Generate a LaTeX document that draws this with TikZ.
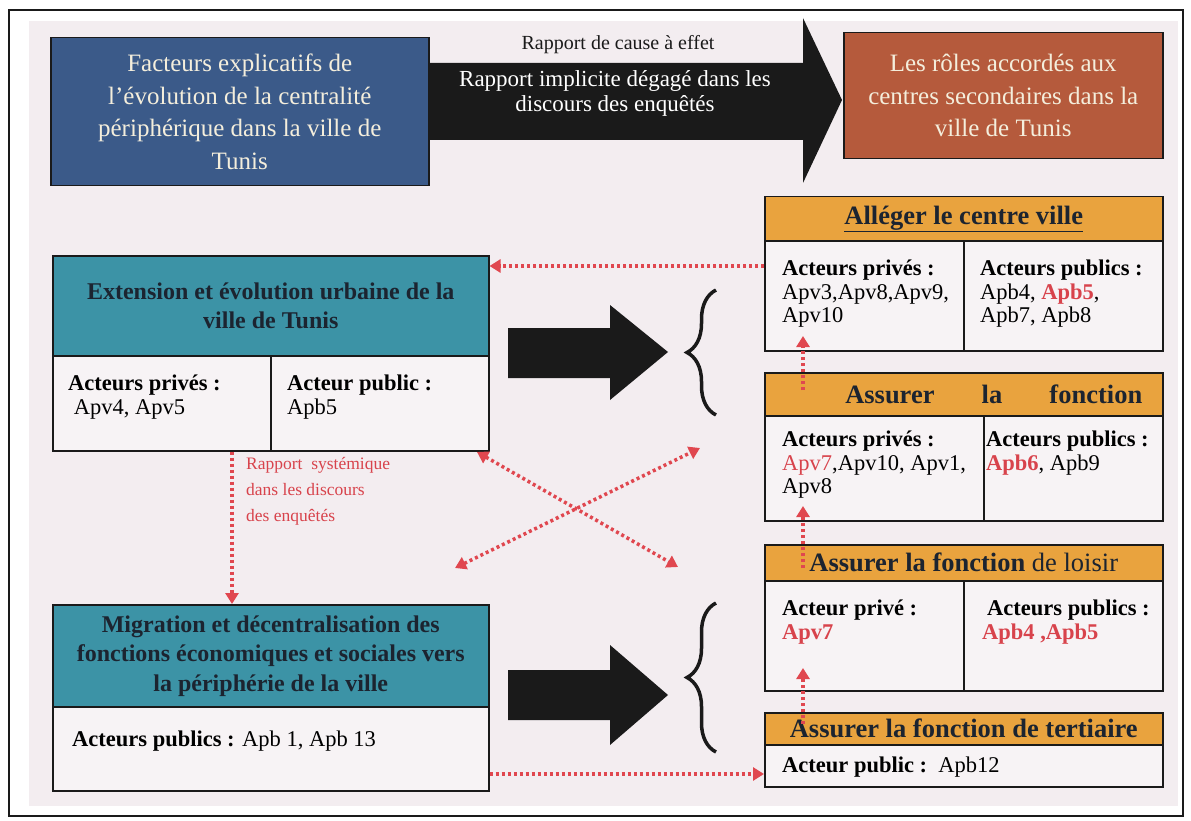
\documentclass[tikz,border=0pt]{standalone}
\usepackage{fontspec}
\setmainfont{Liberation Serif}
\usetikzlibrary{arrows.meta,decorations.pathreplacing,calc}
\definecolor{bgc}{HTML}{F3EDF0}
\definecolor{cellc}{HTML}{F7F3F5}
\definecolor{bluec}{HTML}{3B5A89}
\definecolor{brownc}{HTML}{B55A3C}
\definecolor{tealc}{HTML}{3C93A6}
\definecolor{orangec}{HTML}{E9A33E}
\definecolor{redc}{HTML}{E0474F}
\definecolor{redt}{HTML}{D8434C}
\definecolor{creamc}{HTML}{F4EEDC}
\definecolor{darktx}{HTML}{1C2430}
\definecolor{blk}{HTML}{1A1A1A}
\tikzset{
  bigtitle/.style={draw=blk, line width=1.5pt, inner sep=0pt, anchor=north west, text=creamc, align=center,
    font=\fontsize{25}{32.5}\selectfont},
  lefthdr/.style={draw=blk, line width=1.5pt, fill=tealc, inner sep=0pt, anchor=north west, text=darktx, align=center,
    font=\fontsize{24}{29.5}\selectfont\bfseries},
  righthdr/.style={draw=blk, line width=1.5pt, fill=orangec, inner sep=0pt, anchor=north west, text=darktx,
    font=\fontsize{26.5}{30}\selectfont},
  cellbox/.style={draw=blk, line width=1.5pt, fill=cellc, inner sep=0pt, anchor=north west},
  celltext/.style={inner sep=0pt, anchor=north west, align=left, font=\fontsize{22.5}{23.5}\selectfont},
  rdot/.style={draw=redc, line width=3.5pt, dash pattern=on 3pt off 3pt,
    -{Triangle[width=13pt,length=11pt,fill=redc]}},
  rdotb/.style={rdot, {Triangle[width=13pt,length=11pt,fill=redc]}-{Triangle[width=13pt,length=11pt,fill=redc]}},
  bracestyle/.style={draw=blk, line width=3.5pt, decorate, decoration={brace, amplitude=29pt}},
}
\begin{document}
\begin{tikzpicture}[x=1pt,y=-1pt]
\useasboundingbox (0,0) rectangle (1191,821);
% page background and frame
\fill[white] (0,0) rectangle (1191,821);
\fill[bgc] (29,21) rectangle (1178,806);
\draw[blk, line width=2.5pt] (9,10) rectangle (1183,816);

% top boxes
\node[bigtitle, fill=bluec, minimum width=378pt, minimum height=148pt] (fact) at (50,37)
  {Facteurs explicatifs de\\l'évolution de la centralité\\périphérique dans la ville de\\Tunis};
\node[bigtitle, fill=brownc, minimum width=319pt, minimum height=126pt] (roles) at (843,32)
  {Les rôles accordés aux\\centres secondaires dans la\\ville de Tunis};

% big black arrow
\fill[blk] (fact.east |- 0,63) -- (803,63) -- (803,18) -- (842,100) -- (803,183) -- (803,140) -- (fact.east |- 0,140) -- cycle;
\node[font=\fontsize{20}{22}\selectfont, text=blk] (cause) at (618,45) {Rapport de cause à effet};
\node[font=\fontsize{23}{25}\selectfont, text=white, align=center] (impl) at (615,93)
  {Rapport implicite dégagé dans les\\discours des enquêtés};

% left box A
\node[lefthdr, minimum width=436pt, minimum height=100pt] (hA) at (52,255)
  {Extension et évolution urbaine de la\\ville de Tunis};
\node[cellbox, minimum width=218pt, minimum height=95pt] (cAl) at (52,355) {};
\node[cellbox, minimum width=218pt, minimum height=95pt] (cAr) at (270,355) {};
\node[celltext] (tAl) at (68,375) {\textbf{Acteurs privés :}\\\ Apv4, Apv5};
\node[celltext] (tAr) at (287,375) {\textbf{Acteur public :}\\Apb5};

% left box B
\node[lefthdr, minimum width=436pt, minimum height=102pt] (hB) at (52,604)
  {Migration et décentralisation des\\fonctions économiques et sociales vers\\la périphérie de la ville};
\node[cellbox, minimum width=436pt, minimum height=84pt] (cB) at (52,706) {};
\node[celltext] (tB) at (72,731) {\textbf{Acteurs publics :} Apb 1, Apb 13};

% right box 1
\node[righthdr, minimum width=398pt, minimum height=44pt] (h1) at (764,196)
  {\bfseries\underline{Alléger le centre ville}};
\node[cellbox, minimum width=199pt, minimum height=110pt] (c1l) at (764,240) {};
\node[cellbox, minimum width=199pt, minimum height=110pt] (c1r) at (963,240) {};
\node[celltext] (t1l) at (782,260) {\textbf{Acteurs privés :}\\Apv3,Apv8,Apv9,\\Apv10};
\node[celltext] (t1r) at (980,260) {\textbf{Acteurs publics :}\\Apb4, \textcolor{redt}{\textbf{Apb5}},\\Apb7, Apb8};

% right box 2
\node[righthdr, minimum width=398pt, minimum height=43pt] (h2) at (764,372)
  {\bfseries\hspace*{60pt}\makebox[297pt]{Assurer\hfill la\hfill fonction}};
\node[cellbox, minimum width=219pt, minimum height=105pt] (c2l) at (764,415) {};
\node[cellbox, minimum width=179pt, minimum height=105pt] (c2r) at (983,415) {};
\node[celltext] (t2l) at (782,431) {\textbf{Acteurs privés :}\\\textcolor{redt}{Apv7},Apv10, Apv1,\\Apv8};
\node[celltext] (t2r) at (986,431) {\textbf{Acteurs publics :}\\\textcolor{redt}{\textbf{Apb6}}, Apb9};

% right box 3
\node[righthdr, minimum width=398pt, minimum height=36pt] (h3) at (764,544)
  {\textbf{Assurer la fonction} de loisir};
\node[cellbox, minimum width=199pt, minimum height=110pt] (c3l) at (764,580) {};
\node[cellbox, minimum width=199pt, minimum height=110pt] (c3r) at (963,580) {};
\node[celltext] (t3l) at (782,600) {\textbf{Acteur privé :}\\\textcolor{redt}{\textbf{Apv7}}};
\node[celltext] (t3r) at (982,600) {\hspace*{5pt}\textbf{Acteurs publics :}\\\textcolor{redt}{\textbf{Apb4 ,Apb5}}};

% right box 4
\node[righthdr, minimum width=398pt, minimum height=32pt] (h4) at (764,712)
  {\bfseries Assurer la fonction de tertiaire};
\node[cellbox, minimum width=398pt, minimum height=42pt] (c4) at (764,744) {};
\node[celltext, anchor=west] (t4) at (782,767) {\textbf{Acteur public :}\ \ Apb12};

% black block arrows
\fill[blk] (508,328) -- (610,328) -- (610,305) -- (668,352) -- (610,400) -- (610,378) -- (508,378) -- cycle;
\fill[blk] (508,670) -- (610,670) -- (610,645) -- (668,695) -- (610,745) -- (610,720) -- (508,720) -- cycle;

% braces
\draw[bracestyle] (716,415) -- (716,290);
\draw[bracestyle] (716,752) -- (716,603);

% red dotted connectors
\coordinate (xa) at (477,452);
\coordinate (xb) at (678,567);
\coordinate (xc) at (455,568);
\coordinate (xd) at (700,448);
\coordinate (u1s) at (803,390);
\coordinate (u1e) at (803,336);
\coordinate (u2s) at (803,568);
\coordinate (u2e) at (803,506);
\coordinate (u3s) at (803,724);
\coordinate (u3e) at (803,668);
\draw[rdot] (c1l.west |- 0,266) -- (hA.east |- 0,266);
\draw[rdot] (cAl.south -| 232,0) -- (hB.north -| 232,0);
\draw[rdotb] (xa) -- (xb);
\draw[rdotb] (xc) -- (xd);
\draw[rdot] (cB.east |- 0,774) -- (c4.west |- 0,774);
\draw[rdot] (u1s) -- (u1e);
\draw[rdot] (u2s) -- (u2e);
\draw[rdot] (u3s) -- (u3e);

\node[inner sep=0pt, anchor=north west, align=left, text=redt, font=\fontsize{17.5}{26}\selectfont] (sys) at (246,457)
  {Rapport\ \ systémique\\dans les discours\\des enquêtés};
\end{tikzpicture}
\end{document}
